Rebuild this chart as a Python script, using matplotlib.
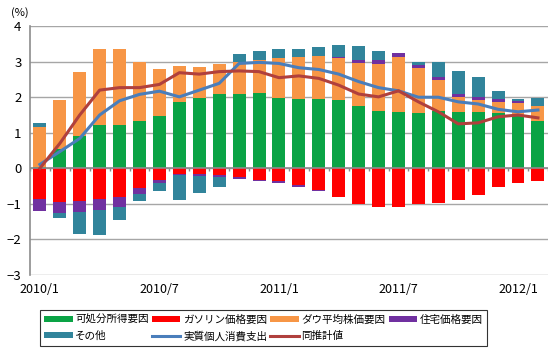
import matplotlib.pyplot as plt
import matplotlib as mpl
import numpy as np

# months 2010/1 .. 2012/2
months = ["2010/1","2010/2","2010/3","2010/4","2010/5","2010/6","2010/7","2010/8","2010/9","2010/10","2010/11","2010/12",
          "2011/1","2011/2","2011/3","2011/4","2011/5","2011/6","2011/7","2011/8","2011/9","2011/10","2011/11","2011/12",
          "2012/1","2012/2"]
tick_labels = ["2010/1", "2010/7", "2011/1", "2011/7", "2012/1"]

income = [0.05,0.53,0.91,1.22,1.22,1.32,1.48,1.86,1.99,2.09,2.09,2.12,1.99,1.96,1.96,1.91,1.76,1.61,1.58,1.56,1.60,1.58,1.58,1.55,1.50,1.33]
gasoline = [-0.87,-0.95,-0.93,-0.87,-0.82,-0.55,-0.33,-0.16,-0.17,-0.19,-0.23,-0.33,-0.37,-0.47,-0.61,-0.80,-1.00,-1.08,-1.08,-1.00,-0.98,-0.89,-0.75,-0.53,-0.40,-0.35]
dow = [1.12,1.39,1.81,2.13,2.13,1.66,1.31,1.02,0.87,0.84,0.91,0.93,1.10,1.16,1.21,1.18,1.19,1.32,1.54,1.25,0.88,0.42,0.34,0.32,0.35,0.42]
housing = [-0.32,-0.31,-0.30,-0.30,-0.27,-0.17,-0.09,-0.04,-0.04,-0.04,-0.06,-0.04,-0.05,-0.05,-0.03,0.05,0.10,0.13,0.11,0.10,0.10,0.09,0.09,0.08,0.04,0.0]
other = [0.11,-0.15,-0.62,-0.71,-0.37,-0.19,-0.23,-0.69,-0.49,-0.30,0.21,0.26,0.27,0.24,0.25,0.33,0.39,0.24,-0.02,0.07,0.40,0.66,0.57,0.22,0.06,0.22]

real_pce = [0.11,0.47,0.84,1.50,1.90,2.08,2.17,2.01,2.20,2.39,2.95,2.98,2.95,2.83,2.78,2.65,2.44,2.27,2.18,2.00,2.00,1.87,1.81,1.66,1.59,1.64]
estimate = [0.00,0.70,1.50,2.20,2.27,2.27,2.36,2.69,2.65,2.72,2.74,2.72,2.55,2.60,2.53,2.34,2.09,2.01,2.18,1.87,1.59,1.25,1.28,1.45,1.50,1.42]

series = [("可処分所得要因", income, "#0aa345"),
          ("ガソリン価格要因", gasoline, "#ff0000"),
          ("ダウ平均株価要因", dow, "#f79646"),
          ("住宅価格要因", housing, "#7030a0"),
          ("その他", other, "#31849b")]

plt.rcParams['font.family'] = ['Noto Sans CJK JP', 'DejaVu Sans']
mpl.rcParams['xtick.labelsize'] = 9
mpl.rcParams['ytick.labelsize'] = 9.5

x = np.arange(len(months))

fig = plt.figure(figsize=(5.54, 3.53), dpi=100)
ax = fig.add_axes([0.054, 0.221, 0.935, 0.705])

ax.grid(axis="y", color="#a6a6a6", lw=1, zorder=0)

bar_handles = []
pos = np.zeros(len(x))
neg = np.zeros(len(x))
for name, vals, col in series:
    v = np.array(vals)
    bottom = np.where(v >= 0, pos, neg)
    b = ax.bar(x, v, bottom=bottom, width=0.65, color=col, label=name, zorder=2, edgecolor="none")
    bar_handles.append(b)
    pos = pos + np.where(v >= 0, v, 0)
    neg = neg + np.where(v < 0, v, 0)

l1, = ax.plot(x, real_pce, color="#4a7ebb", lw=2.2, label="実質個人消費支出", zorder=3)
l2, = ax.plot(x, estimate, color="#b0403d", lw=2.2, label="同推計値", zorder=3)

# zero axis with small ticks between categories
ax.axhline(0, color="#8c8c8c", lw=1.2, zorder=2.5)
ax.vlines(np.arange(-0.5, len(x)), -0.08, 0, color="#8c8c8c", lw=1, zorder=2.5)

ax.set_xlim(-0.5, len(x) - 0.5)
ax.set_ylim(-3, 4)
ax.set_yticks(range(-3, 5))
ax.set_xticks([months.index(t) for t in tick_labels])
ax.set_xticklabels(tick_labels)
ax.tick_params(axis="x", length=0, pad=6)
ax.tick_params(axis="y", length=0, pad=6)

for s in ["top", "right", "bottom"]:
    ax.spines[s].set_visible(False)
ax.spines["left"].set_color("#8c8c8c")
ax.spines["left"].set_linewidth(1.2)

fig.text(0.02, 0.955, "(%)", fontsize=8)

# row-major order for a 4 column legend (matplotlib fills column-wise)
g, r, o, p, t = bar_handles
hs = [g, t, r, l1, o, l2, p]
leg = fig.legend(hs, [h.get_label() for h in hs],
                 loc="lower left", bbox_to_anchor=(0.072, 0.02), ncol=4, fontsize=7.6,
                 frameon=True, fancybox=False, edgecolor="black", handlelength=2.7,
                 handleheight=0.5, columnspacing=0.3, handletextpad=0.25, labelspacing=0.6,
                 borderpad=0.4, borderaxespad=0)
leg.get_frame().set_linewidth(0.8)

fig.savefig("out.png", dpi=100)
